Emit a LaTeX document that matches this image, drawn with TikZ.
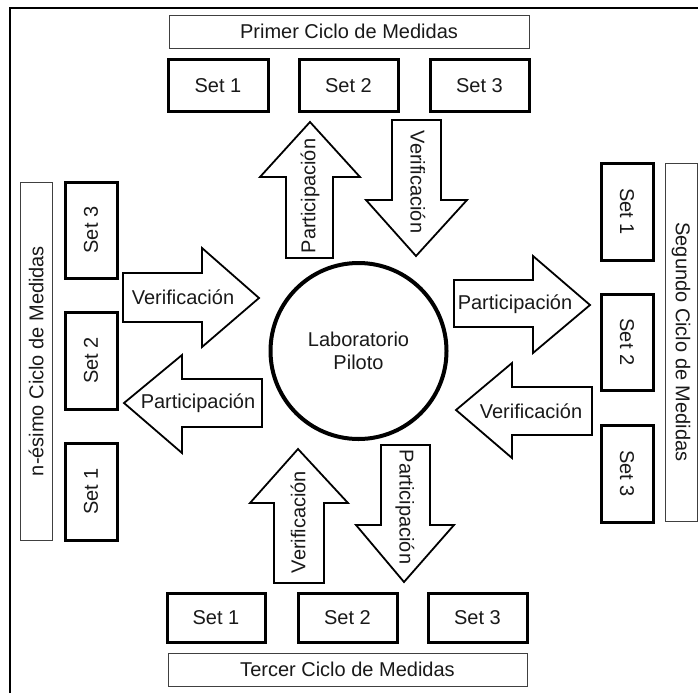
\documentclass[tikz,border=0pt]{standalone}
\usepackage{fontspec}
\setmainfont{Liberation Sans}
\begin{document}
\begin{tikzpicture}[x=1pt,y=-1pt,
  txt/.style={font=\fontsize{20}{23}\selectfont, text=black!90, inner sep=0pt},
  setbox/.style={txt, draw=black, line width=3pt, fill=white},
  titlebox/.style={txt, draw=black!75, line width=0.9pt, fill=white},
  bigarrow/.style={draw=black, line width=1.8pt, line join=miter, fill=white},
  lab/.style={circle, draw=black, line width=4pt, minimum size=176pt, inner sep=0pt, align=center, txt}
]
\path[fill=white, use as bounding box] (0,0) rectangle (698,693);
% outer frame (left and top edges visible)
\draw[line width=2pt] (10,693) -- (10,8) -- (698,8);

% ---------- top ----------
\node[titlebox, minimum width=360pt, minimum height=33pt] (primer) at (349,31.5) {Primer Ciclo de Medidas};
\node[setbox, minimum width=100pt, minimum height=51pt] (t1) at (218,85.5) {Set 1};
\node[setbox, minimum width=99pt, minimum height=51pt, text depth=-4pt] (t2) at (348.5,85.5) {Set 2};
\node[setbox, minimum width=99pt, minimum height=51pt] (t3) at (479.5,85.5) {Set 3};

% ---------- bottom ----------
\node[setbox, minimum width=98pt, minimum height=49pt] (b1) at (216,617.5) {Set 1};
\node[setbox, minimum width=99pt, minimum height=49pt, text depth=-4pt] (b2) at (347.5,617.5) {Set 2};
\node[setbox, minimum width=99pt, minimum height=49pt] (b3) at (477.5,617.5) {Set 3};
\node[titlebox, minimum width=359pt, minimum height=33pt] (tercer) at (347.5,669.5) {Tercer Ciclo de Medidas};

% ---------- right ----------
\node[setbox, rotate=-90, minimum width=97pt, minimum height=52pt] (r1) at (627,211.5) {Set 1};
\node[setbox, rotate=-90, minimum width=96pt, minimum height=52pt] (r2) at (627,342) {Set 2};
\node[setbox, rotate=-90, minimum width=97pt, minimum height=52pt] (r3) at (627,473.5) {Set 3};
\node[titlebox, rotate=-90, minimum width=358pt, minimum height=32pt] (segundo) at (681,342) {Segundo Ciclo de Medidas};

% ---------- left ----------
\node[setbox, rotate=90, minimum width=96pt, minimum height=52pt] (l3) at (91,230) {Set 3};
\node[setbox, rotate=90, minimum width=97pt, minimum height=52pt] (l2) at (91,360.5) {Set 2};
\node[setbox, rotate=90, minimum width=97pt, minimum height=52pt] (l1) at (91,491.5) {Set 1};
\node[titlebox, rotate=90, minimum width=358pt, minimum height=32pt] (nesimo) at (36,361) {n-ésimo Ciclo de Medidas};

% ---------- centre ----------
\node[lab] (lab) at (358.5,351) {Laboratorio\\Piloto};

% ---------- block arrows ----------
% top: up (Participacion)
\draw[bigarrow] (286,258) -- (286,177) -- (260,177) -- (310,122) -- (360,177) -- (333,177) -- (333,258) -- cycle;
\node[txt, rotate=90] (apTop) at (310,196) {Participación};
% top: down (Verificacion)
\draw[bigarrow] (392,120) -- (441,120) -- (441,200) -- (467,200) -- (416,256) -- (366,200) -- (392,200) -- cycle;
\node[txt, rotate=-90] (avTop) at (418,182) {Verificación};
% right: right-pointing (Participacion)
\draw[bigarrow] (454,280) -- (533,280) -- (533,256) -- (590,305) -- (533,353) -- (533,327) -- (454,327) -- cycle;
\node[txt] (apRight) at (515,304) {Participación};
% right: left-pointing (Verificacion)
\draw[bigarrow] (592,387) -- (512,387) -- (512,363) -- (456,410) -- (512,458) -- (512,435) -- (592,435) -- cycle;
\node[txt] (avRight) at (531,411) {Verificación};
% bottom: down (Participacion)
\draw[bigarrow] (381,445) -- (430,445) -- (430,525) -- (454,525) -- (404,582) -- (356,525) -- (381,525) -- cycle;
\node[txt, rotate=-90] (apBot) at (405,507) {Participación};
% bottom: up (Verificacion)
\draw[bigarrow] (274,583) -- (274,503) -- (250,503) -- (298,449) -- (348,503) -- (324,503) -- (324,583) -- cycle;
\node[txt, rotate=90] (avBot) at (298,522) {Verificación};
% left: right-pointing (Verificacion)
\draw[bigarrow] (123,273) -- (202,273) -- (202,248) -- (259,298) -- (202,347) -- (202,322) -- (123,322) -- cycle;
\node[txt] (avLeft) at (183,297) {Verificación};
% left: left-pointing (Participacion)
\draw[bigarrow] (262,379) -- (182,379) -- (182,355) -- (124,403) -- (182,453) -- (182,427) -- (262,427) -- cycle;
\node[txt] (apLeft) at (198,403) {Participación};
\end{tikzpicture}
\end{document}
